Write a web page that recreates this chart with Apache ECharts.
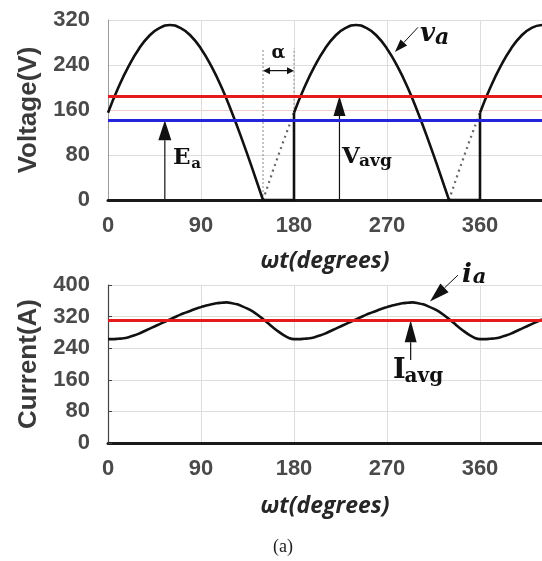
<!DOCTYPE html>
<html>
<head>
<meta charset="utf-8">
<script src="https://cdn.jsdelivr.net/npm/echarts@6/dist/echarts.min.js"></script>
<style>
  html, body { margin: 0; padding: 0; background: #ffffff; }
  #chart { width: 542px; height: 561px; }
</style>
</head>
<body>
<div id="chart"></div>
<script>
// Single-phase controlled rectifier feeding a DC machine:
// armature voltage v_a (top) and armature current i_a (bottom), angle in degrees.

// Conducting humps of the output voltage (deg, V)
const va1Angle = [0, 10, 20, 30, 40, 50, 60, 70, 80, 90, 100, 110, 120, 130, 140, 150];
const va1Volt  = [155, 200, 238, 269, 292, 306, 311, 306, 292, 269, 238, 200, 155, 106, 54, 0];
const va2Angle = [180, 190, 200, 210, 220, 230, 240, 250, 260, 270, 280, 290, 300, 310, 320, 330];
const va2Volt  = [155, 200, 238, 269, 292, 306, 311, 306, 292, 269, 238, 200, 155, 106, 54, 0];
const va3Angle = [360, 370, 380, 390, 400, 410, 420];
const va3Volt  = [155, 200, 238, 269, 292, 306, 311];

// Zero interval followed by the firing step
const step1Angle = [150, 180, 180];
const step1Volt  = [0, 0, 155];
const step2Angle = [330, 360, 360];
const step2Volt  = [0, 0, 155];

// Supply voltage while the thyristors are blocked (dotted)
const blocked1Angle = [150, 160, 170, 180];
const blocked1Volt  = [0, 54, 106, 155];
const blocked2Angle = [330, 340, 350, 360];
const blocked2Volt  = [0, 54, 106, 155];

// Average output voltage and back EMF (V)
const vAvg = 185;
const eA = 142;

// Armature current, sampled every 5 degrees (A)
const iaAngle = [
  0, 5, 10, 15, 20, 25, 30, 35, 40, 45, 50, 55, 60, 65, 70, 75, 80, 85, 90,
  95, 100, 105, 110, 115, 120, 125, 130, 135, 140, 145, 150, 155, 160, 165, 170, 175,
  180, 185, 190, 195, 200, 205, 210, 215, 220, 225, 230, 235, 240, 245, 250, 255, 260, 265, 270,
  275, 280, 285, 290, 295, 300, 305, 310, 315, 320, 325, 330, 335, 340, 345, 350, 355,
  360, 365, 370, 375, 380, 385, 390, 395, 400, 405, 410, 415, 420
];
const iaAmp = [
  263, 263, 264, 265, 268, 272, 277, 283, 289, 295, 301, 307, 313, 319, 325, 330, 335, 340, 344,
  348, 351, 354, 355, 356, 354, 351, 346, 340, 333, 324, 314, 303, 292, 282, 273, 266,
  263, 263, 264, 265, 268, 272, 277, 283, 289, 295, 301, 307, 313, 319, 325, 330, 335, 340, 344,
  348, 351, 354, 355, 356, 354, 351, 346, 340, 333, 324, 314, 303, 292, 282, 273, 266,
  263, 263, 264, 265, 268, 272, 277, 283, 289, 295, 301, 307, 313
];
const iAvg = 311;

// Firing angle marker (deg) and its span
const alphaStart = 150;
const alphaEnd = 180;

// Last labelled angle on the x axes
const lastAngleLabel = 360;

const zip = (xs, ys) => xs.map((x, i) => [x, ys[i]]);

const tickFont = { fontFamily: 'Liberation Sans', fontWeight: 'bold', fontSize: 22, color: '#4a4a4a' };
const yNameFont = { fontFamily: 'Liberation Sans', fontWeight: 'bold', fontSize: 26, color: '#3a3a3a' };
const xNameFont = { fontFamily: 'Open Sans', fontWeight: 'bold', fontStyle: 'italic', fontSize: 23, color: '#262626' };

const curve = (xi, data, extra) => Object.assign({
  type: 'line', xAxisIndex: xi, yAxisIndex: xi, data: data,
  showSymbol: false, symbol: 'none', silent: true, animation: false,
  lineStyle: { color: '#111111', width: 2.6 }
}, extra || {});

const hLine = (value, color) => ({
  yAxis: value, lineStyle: { color: color, width: 3, type: 'solid' }
});

const xAxisBase = (gi, gap) => ({
  type: 'value', gridIndex: gi, min: 0, max: 420, interval: 90,
  name: 'ωt(degrees)', nameLocation: 'middle', nameGap: gap, nameTextStyle: xNameFont,
  axisLine: { show: true, onZero: false, lineStyle: { color: '#1a1a1a', width: 3 } },
  axisTick: { show: false },
  axisLabel: Object.assign({
    margin: 15,
    formatter: v => (v > lastAngleLabel ? '' : String(v))
  }, tickFont),
  splitLine: { show: true, lineStyle: { color: '#dddddd', width: 1 } }
});

const chart = echarts.init(document.getElementById('chart'), null, { renderer: 'canvas' });

chart.setOption({
  animation: false,
  backgroundColor: '#ffffff',
  grid: [
    { left: 108, right: 0, top: 20, height: 180, outerBoundsMode: 'none', containLabel: false },
    { left: 108, right: 0, top: 285, height: 158, outerBoundsMode: 'none', containLabel: false }
  ],
  xAxis: [xAxisBase(0, 50), xAxisBase(1, 52)],
  yAxis: [
    {
      type: 'value', gridIndex: 0, min: 0, max: 320, interval: 80,
      name: 'Voltage(V)', nameLocation: 'middle', nameRotate: 90, nameGap: 66, nameTextStyle: yNameFont,
      axisLine: { show: true, lineStyle: { color: '#9a9a9a', width: 1 } },
      axisTick: { show: false },
      axisLabel: Object.assign({ margin: 18 }, tickFont),
      splitLine: { show: true, lineStyle: { color: ['#dddddd', '#dddddd', '#f0cfc8', '#dddddd', '#dddddd'], width: 1 } }
    },
    {
      type: 'value', gridIndex: 1, min: 0, max: 400, interval: 80,
      name: 'Current(A)', nameLocation: 'middle', nameRotate: 90, nameGap: 66, nameTextStyle: yNameFont,
      axisLine: { show: true, lineStyle: { color: '#444444', width: 1.2 } },
      axisTick: { show: true, inside: true, length: 4, lineStyle: { color: '#444444' } },
      axisLabel: Object.assign({ margin: 18 }, tickFont),
      splitLine: { show: true, lineStyle: { color: '#dddddd', width: 1 } }
    }
  ],
  series: [
    curve(0, zip(blocked1Angle, blocked1Volt), { lineStyle: { color: '#666666', width: 2.2, type: [2, 4] } }),
    curve(0, zip(blocked2Angle, blocked2Volt), { lineStyle: { color: '#666666', width: 2.2, type: [2, 4] } }),
    curve(0, zip(step1Angle, step1Volt)),
    curve(0, zip(step2Angle, step2Volt)),
    curve(0, zip(va1Angle, va1Volt), { smooth: true }),
    curve(0, zip(va2Angle, va2Volt), { smooth: true }),
    curve(0, zip(va3Angle, va3Volt), {
      smooth: true,
      markLine: {
        silent: true, symbol: ['none', 'none'], label: { show: false }, animation: false,
        data: [hLine(vAvg, '#e51a1a'), hLine(eA, '#2424dd')]
      }
    }),
    curve(1, zip(iaAngle, iaAmp), {
      smooth: 0.3,
      markLine: {
        silent: true, symbol: ['none', 'none'], label: { show: false }, animation: false,
        data: [hLine(iAvg, '#e51a1a')]
      }
    })
  ]
});

// ---- annotations placed in data coordinates ----
const toPx = (g, x, y) => chart.convertToPixel({ gridIndex: g }, [x, y]);

function arrow(g, from, to, headL, headW, color, lw, both) {
  const p0 = toPx(g, from[0], from[1]);
  const p1 = toPx(g, to[0], to[1]);
  const dx = p1[0] - p0[0], dy = p1[1] - p0[1];
  const len = Math.hypot(dx, dy);
  const ux = dx / len, uy = dy / len;
  const nx = -uy * headW / 2, ny = ux * headW / 2;
  const b1 = [p1[0] - ux * headL, p1[1] - uy * headL];
  const out = [];
  let start = p0;
  if (both) {
    const b0 = [p0[0] + ux * headL, p0[1] + uy * headL];
    out.push({ type: 'polygon', silent: true, shape: { points: [p0, [b0[0] + nx, b0[1] + ny], [b0[0] - nx, b0[1] - ny]] }, style: { fill: color } });
    start = b0;
  }
  out.push({ type: 'line', silent: true, shape: { x1: start[0], y1: start[1], x2: b1[0], y2: b1[1] }, style: { stroke: color, lineWidth: lw } });
  out.push({ type: 'polygon', silent: true, shape: { points: [p1, [b1[0] + nx, b1[1] + ny], [b1[0] - nx, b1[1] - ny]] }, style: { fill: color } });
  return out;
}

function vDotted(g, x, y0, y1) {
  const a = toPx(g, x, y0), b = toPx(g, x, y1);
  return { type: 'line', silent: true, shape: { x1: a[0], y1: a[1], x2: b[0], y2: b[1] },
           style: { stroke: '#8a8a8a', lineWidth: 1, lineDash: [2, 2] } };
}

function label(g, x, y, text, size, italic) {
  const p = toPx(g, x, y);
  return { type: 'text', silent: true, x: p[0], y: p[1],
           style: { text: text, fontFamily: 'DejaVu Serif', fontWeight: 'bold',
                    fontStyle: italic ? 'italic' : 'normal', fontSize: size,
                    fill: '#111111', align: 'left', verticalAlign: 'middle' } };
}

const graphics = [].concat(
  // firing angle guides
  vDotted(0, alphaStart, 0, 270),
  vDotted(0, alphaEnd, 155, 270),
  arrow(0, [alphaStart, 230], [alphaEnd, 230], 7, 7, '#111111', 1.2, true),
  [{ type: 'text', silent: true, x: toPx(0, (alphaStart + alphaEnd) / 2, 261)[0], y: toPx(0, 0, 261)[1],
     style: { text: 'α', fontFamily: 'DejaVu Serif', fontWeight: 'bold', fontSize: 18, fill: '#111111',
              align: 'center', verticalAlign: 'middle' } }],
  // back EMF and average voltage
  arrow(0, [55, 0], [55, eA], 20, 13, '#111111', 1.2),
  [label(0, 62.9, 75, 'E', 23), label(0, 80.5, 63, 'a', 15)],
  arrow(0, [224, 0], [224, vAvg], 20, 12, '#111111', 1.2),
  [label(0, 226.5, 76, 'V', 23), label(0, 243, 68, 'avg', 17)],
  // v_a pointer
  arrow(0, [300, 307], [277.7, 263], 13, 9, '#111111', 1),
  [label(0, 302, 295, 'v', 26, true), label(0, 316.5, 288, 'a', 22, true)],
  // average current
  arrow(1, [292.9, 210], [292.9, iAvg], 22, 12, '#111111', 1.2),
  [label(1, 275.8, 182, 'I', 27), label(1, 287, 167, 'avg', 20)],
  // i_a pointer
  arrow(1, [338.7, 425], [311.6, 358], 20, 12, '#111111', 1),
  [label(1, 342.6, 425, 'i', 26, true), label(1, 353, 418, 'a', 21, true)],
  // figure caption
  [{ type: 'text', silent: true, x: 283, y: 547,
     style: { text: '(a)', fontFamily: 'Liberation Serif', fontSize: 18, fill: '#222222',
              align: 'center', verticalAlign: 'middle' } }]
);

chart.setOption({ graphic: { elements: graphics } });
</script>
</body>
</html>
